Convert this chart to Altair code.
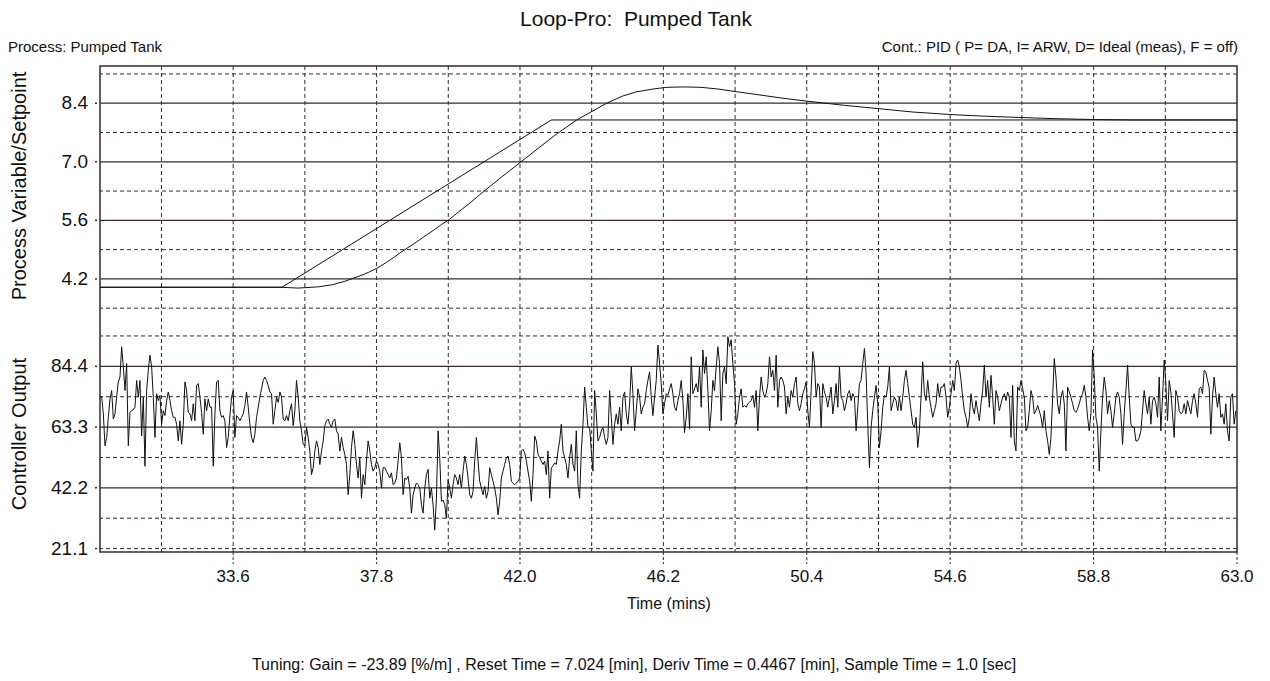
import altair as alt
import numpy as np
import pandas as pd

FONT = "Liberation Sans, Arial, sans-serif"
GRID = "#3a2828"
INK = "#111111"

# ---------------- data ----------------
SP_TIME = [29.7, 35.03, 42.92, 63.0]
SP_VALUE = [4.0, 4.0, 8.0, 8.0]

PV_TIME = [29.7, 31.0, 32.5, 34.0, 35.0, 35.5, 36.1, 36.5, 36.9, 37.1, 37.4, 37.6,
           37.8, 38.1, 38.3, 38.5, 38.8, 39.0, 39.3, 39.5, 39.7, 39.93, 40.2, 40.5,
           40.92, 41.5, 42.0, 42.5, 43.0, 43.66, 44.1, 44.54, 45.0, 45.4, 45.9,
           46.3, 46.8, 47.3, 47.8, 48.3, 49.0, 49.7, 50.4, 51.5, 52.5, 53.5, 54.6,
           55.6, 56.6, 57.7, 58.8, 60.0, 61.5, 63.0]
PV_VALUE = [4.0, 4.0, 4.0, 4.0, 4.0, 3.98, 4.01, 4.06, 4.15, 4.21, 4.3, 4.37,
            4.45, 4.6, 4.71, 4.83, 4.99, 5.1, 5.27, 5.38, 5.5, 5.62, 5.8, 5.99,
            6.28, 6.66, 6.98, 7.3, 7.62, 8.0, 8.2, 8.4, 8.57, 8.67, 8.74,
            8.78, 8.79, 8.78, 8.74, 8.68, 8.6, 8.52, 8.45, 8.35, 8.27, 8.19, 8.13,
            8.09, 8.06, 8.03, 8.01, 8.0, 8.0, 8.0]

# controller output, one reading per sample slot (start CO_START, spacing CO_STEP)
CO_START = 29.7
CO_STEP = 0.048776
CO_PART1 = [
    73.7, 73.9, 67.9, 56.8, 59.7, 66.7, 73.1, 76.0, 66.1, 67.9,
    73.7, 79.0, 80.7, 91.2, 84.2, 76.0, 85.4, 56.8, 68.4, 69.0,
    69.3, 70.2, 79.5, 73.7, 79.5, 60.2, 73.7, 49.7, 76.0, 83.0,
    88.3, 84.2, 73.7, 59.7, 74.9, 72.5, 74.3, 64.3, 69.0, 67.3,
    72.5, 75.5, 72.5, 69.0, 66.7, 66.7, 64.3, 58.5, 65.5, 57.3,
    64.3, 79.0, 76.0, 68.4, 67.9, 65.5, 71.4, 65.5, 77.8, 78.4,
    73.7, 68.4, 60.8, 73.1, 69.0, 73.1, 70.2, 70.2, 49.7, 67.9,
    79.0, 79.5, 69.0, 66.7, 67.3, 65.5, 56.2, 59.7, 67.3, 73.7,
    76.0, 59.7, 67.3, 66.7, 65.5, 66.7, 67.9, 70.8, 75.5, 70.2,
    64.3, 59.7, 57.9, 60.8, 66.7, 70.2, 73.7, 76.6, 79.5, 80.7,
    79.5, 77.8, 75.5, 74.9, 64.3, 69.0, 73.7, 71.9, 75.5, 73.7,
    66.1, 65.5, 67.3, 65.5, 69.0, 71.4, 63.8, 69.0, 79.5, 73.7,
    65.5, 62.0, 57.3, 56.8, 63.2, 59.7, 55.0, 46.8, 49.2, 55.0,
    58.5, 56.2, 50.3, 55.0, 58.5, 63.8, 65.5, 66.1, 64.3, 63.2,
    65.5, 66.1, 62.0, 60.8, 55.0, 59.7, 56.2, 53.8, 50.3, 39.8,
    46.8, 56.2, 62.0, 57.3, 50.3, 45.6, 52.7, 38.6, 46.8, 43.3,
    51.5, 58.5, 55.0, 50.3, 48.0, 49.2, 51.5, 50.3, 48.0, 42.1,
    49.2]
CO_PART2 = [
    49.2, 48.0, 46.8, 45.6, 47.4, 43.3, 43.9, 45.6, 51.5, 57.9,
    52.7, 39.8, 45.6, 45.1, 46.2, 42.1, 33.4, 39.8, 42.1, 43.9,
    43.3, 42.1, 36.3, 33.4, 42.1, 46.8, 48.6, 38.6, 42.1, 36.3,
    27.5, 38.6, 62.0, 52.7, 37.5, 38.0, 36.3, 31.6, 45.1, 42.1,
    38.6, 43.3, 46.8, 45.6, 43.3, 46.8, 42.1, 48.0, 53.2, 50.3,
    45.6, 39.8, 38.6, 41.0, 51.5, 59.7, 51.5, 44.5, 42.1, 39.8,
    42.7, 38.6, 41.0, 49.2, 46.8, 44.5, 42.1, 38.6, 32.8, 37.5,
    45.6, 48.0, 50.3, 52.7, 53.2, 50.3, 44.5, 43.9, 43.3, 43.9,
    44.5, 45.6, 55.0, 55.6, 54.4, 51.5, 48.0, 44.5, 37.5, 46.8,
    60.2, 58.5, 53.8, 52.7, 51.5, 50.3, 51.5, 46.8, 55.0, 38.6,
    49.2, 49.7, 50.9, 50.3, 55.0, 58.5, 64.3, 55.0, 52.7, 50.3,
    45.6, 52.7, 57.3, 50.3, 48.0, 62.0, 43.3, 38.6, 55.0, 64.3,
    77.2, 70.2, 63.2, 63.2, 55.0, 48.0, 76.0, 67.9, 58.5, 59.7,
    62.0, 63.2, 59.7, 57.3, 59.7, 76.0, 66.7, 57.3, 64.3, 67.9,
    64.3, 70.2, 62.0, 73.7, 75.5, 67.9, 64.3, 71.4, 84.2, 74.9,
    62.0, 69.0, 76.6, 73.7, 67.9, 70.2, 71.4, 76.0, 79.5, 82.5,
    73.7, 67.3, 73.7, 79.5, 91.8, 85.4, 78.4, 67.9, 71.4, 74.9,
    74.3]
CO_PART3 = [
    76.6, 78.4, 74.9, 70.2, 69.0, 72.5, 74.9, 79.5, 72.5, 61.4,
    66.7, 74.9, 62.6, 87.7, 74.9, 76.6, 78.4, 75.5, 84.2, 70.2,
    90.1, 81.9, 87.7, 76.0, 62.0, 69.0, 79.5, 76.0, 84.2, 91.2,
    85.4, 65.5, 81.9, 84.2, 78.4, 94.7, 91.2, 93.6, 85.4, 78.4,
    64.3, 67.9, 73.7, 76.6, 70.2, 70.8, 70.2, 71.4, 71.9, 72.5,
    74.3, 70.2, 76.0, 62.0, 73.7, 80.7, 76.0, 73.7, 74.9, 78.4,
    87.7, 80.7, 83.0, 76.0, 88.3, 70.2, 79.5, 80.7, 79.5, 77.2,
    67.9, 73.7, 70.2, 76.0, 73.7, 78.4, 80.7, 71.4, 69.0, 71.4,
    74.9, 76.6, 79.0, 69.0, 63.2, 76.0, 89.5, 85.4, 73.7, 78.4,
    77.2, 63.2, 78.4, 75.5, 73.7, 70.2, 73.7, 77.2, 67.9, 72.5,
    78.4, 70.2, 84.2, 73.7, 72.5, 69.0, 71.4, 74.9, 76.0, 72.5,
    74.9, 73.7, 62.0, 70.2, 78.4, 79.5, 85.4, 90.6, 81.9, 64.3,
    49.2, 63.2, 69.0, 73.7, 77.8, 71.4, 56.2, 62.0, 70.2, 74.3,
    73.7, 77.2, 84.2, 69.0, 71.4, 73.7, 72.5, 69.0, 73.7, 69.0,
    73.7, 79.5, 83.0, 78.4, 73.7, 69.0, 64.3, 63.2, 66.7, 56.2,
    62.0, 73.7, 86.0, 74.9, 72.5, 79.5, 73.7, 70.2, 66.7, 69.0,
    71.4, 78.4, 73.7, 77.2, 77.2, 78.4, 73.7, 66.7, 70.2, 74.9,
    79.5]
CO_PART4 = [
    76.0, 85.4, 86.6, 84.2, 79.5, 73.7, 69.0, 66.7, 63.2, 66.7,
    74.9, 70.2, 67.9, 72.5, 69.0, 65.5, 71.4, 76.0, 84.8, 73.7,
    79.5, 70.2, 81.3, 73.7, 64.3, 76.0, 73.7, 69.0, 71.4, 73.7,
    74.9, 72.5, 75.5, 73.7, 59.7, 77.8, 58.5, 55.0, 77.2, 76.0,
    79.5, 76.6, 73.7, 62.0, 63.2, 69.0, 76.0, 73.7, 67.9, 69.0,
    70.8, 69.0, 66.7, 63.2, 69.0, 62.0, 58.5, 53.8, 59.7, 73.7,
    87.1, 80.7, 71.4, 67.9, 73.7, 76.0, 71.4, 55.0, 77.2, 75.5,
    73.7, 71.4, 69.0, 68.4, 69.6, 71.4, 73.7, 74.9, 77.8, 73.7,
    66.7, 62.0, 67.9, 90.1, 80.7, 66.7, 63.2, 48.0, 62.0, 73.7,
    80.7, 76.0, 67.9, 72.5, 69.0, 63.2, 67.9, 73.7, 75.5, 73.7,
    67.9, 57.3, 67.9, 76.0, 84.8, 73.7, 64.3, 63.2, 63.2, 58.5,
    58.5, 59.7, 62.0, 69.0, 76.0, 71.4, 67.9, 73.7, 64.3, 72.5,
    73.7, 71.4, 66.7, 80.7, 62.0, 73.7, 86.6, 78.4, 65.5, 79.5,
    75.5, 67.9, 59.7, 76.0, 73.7, 69.0, 67.9, 68.4, 71.4, 67.9,
    72.5, 70.2, 67.9, 72.5, 74.9, 71.4, 66.7, 76.6, 77.2, 74.9,
    83.0, 82.5, 79.5, 77.2, 60.8, 73.7, 80.7, 74.9, 70.2, 74.9,
    66.7, 67.9, 64.3, 71.4, 62.0, 58.5, 73.7, 74.9, 64.3, 69.0]

# axes / grid definitions
X_DOMAIN = [29.7, 63.0]
X_TICKS = [33.6, 37.8, 42.0, 46.2, 50.4, 54.6, 58.8, 63.0]
X_GRID = [31.5, 33.6, 35.7, 37.8, 39.9, 42.0, 44.1, 46.2, 48.3, 50.4,
          52.5, 54.6, 56.7, 58.8, 60.9]
PV_DOMAIN = [-2.33, 9.29]
PV_TICKS = [4.2, 5.6, 7.0, 8.4]
PV_DASHED = [3.5, 4.9, 6.3, 7.7, 9.1]
CO_DOMAIN = [19.92, 188.7]
CO_TICKS = [21.1, 42.2, 63.3, 84.4]
CO_SOLID = [42.2, 63.3, 84.4]
CO_DASHED = [21.1, 31.65, 52.75, 73.85, 94.95]

TITLE = "Loop-Pro:\u00a0 Pumped Tank"
LEFT_NOTE = "Process: Pumped Tank"
RIGHT_NOTE = "Cont.: PID ( P= DA, I= ARW, D= Ideal (meas), F = off)"
X_TITLE = "Time (mins)"
PV_TITLE = "Process Variable/Setpoint"
CO_TITLE = "Controller Output"
FOOTER = ("Tuning: Gain = -23.89 [%/m] , Reset Time = 7.024 [min], "
          "Deriv Time = 0.4467 [min], Sample Time = 1.0 [sec]")

W, H = 1137, 486

# ---------------- frames ----------------
co_values = CO_PART1 + CO_PART2 + CO_PART3 + CO_PART4
co_df = pd.DataFrame({"t": CO_START + CO_STEP * np.arange(len(co_values)),
                      "v": co_values})
sp_df = pd.DataFrame({"t": SP_TIME, "v": SP_VALUE})
pv_df = pd.DataFrame({"t": PV_TIME, "v": PV_VALUE})

xscale = alt.Scale(domain=X_DOMAIN, nice=False, zero=False)
pvscale = alt.Scale(domain=PV_DOMAIN, nice=False, zero=False)
coscale = alt.Scale(domain=CO_DOMAIN, nice=False, zero=False)

X = alt.X("t:Q", scale=xscale, axis=None)
YPV = alt.Y("v:Q", scale=pvscale, axis=None)
YCO = alt.Y("v:Q", scale=coscale, axis=None)


def hrules(values, y, dash=None, width=1.0):
    kw = {"strokeDash": dash} if dash else {}
    return alt.Chart(pd.DataFrame({"v": values})).mark_rule(
        color=GRID, strokeWidth=width, **kw).encode(y=y)


def ylabels(values, y):
    d = pd.DataFrame({"v": values})
    ticks = alt.Chart(d).mark_rule(color=GRID, strokeWidth=1.5).encode(
        y=y, x=alt.value(-5), x2=alt.value(-3))
    text = alt.Chart(d).mark_text(
        font=FONT, fontSize=19, color=INK, align="right", baseline="middle"
    ).encode(y=y, x=alt.value(-12), text=alt.Text("v:Q", format=".1f"))
    return [ticks, text]


vgrid = alt.Chart(pd.DataFrame({"t": X_GRID})).mark_rule(
    color=GRID, strokeDash=[4, 3], strokeWidth=1).encode(x=X)

xt = pd.DataFrame({"t": X_TICKS})
xticks = alt.Chart(xt).mark_rule(
    color=GRID, strokeDash=[3, 2], strokeWidth=1
).encode(x=X, y=alt.value(H), y2=alt.value(H + 12))
xlabels = alt.Chart(xt).mark_text(
    font=FONT, fontSize=17, color=INK, align="center", baseline="middle"
).encode(x=X, y=alt.value(H + 25), text=alt.Text("t:Q", format=".1f"))

sp_line = alt.Chart(sp_df).mark_line(color=INK, strokeWidth=1).encode(x=X, y=YPV)
pv_line = alt.Chart(pv_df).mark_line(color=INK, strokeWidth=1).encode(x=X, y=YPV)
co_line = alt.Chart(co_df).mark_line(color=INK, strokeWidth=1).encode(x=X, y=YCO)


def label(text, x, y, size, align="center", angle=0):
    return alt.Chart(pd.DataFrame({"s": [text]})).mark_text(
        font=FONT, fontSize=size, color=INK, align=align,
        baseline="middle", angle=angle
    ).encode(text="s:N", x=alt.value(x), y=alt.value(y))


texts = [
    label(TITLE, 536, -46, 21),
    label(LEFT_NOTE, -92, -19, 15, align="left"),
    label(RIGHT_NOTE, 1138, -19, 15, align="right"),
    label(X_TITLE, 569, 538, 16),
    label(FOOTER, 534, 599, 16),
    label(PV_TITLE, -80, 120, 20, angle=270),
    label(CO_TITLE, -80, 368, 20, angle=270),
]

layers = [
    vgrid,
    hrules(PV_TICKS, YPV, width=1.2),
    hrules(PV_DASHED, YPV, dash=[4, 3]),
    hrules(CO_SOLID, YCO, width=1.2),
    hrules(CO_DASHED, YCO, dash=[4, 3]),
    *ylabels(PV_TICKS, YPV),
    *ylabels(CO_TICKS, YCO),
    xticks, xlabels,
    sp_line, pv_line, co_line,
    *texts,
]

chart = alt.layer(*layers).resolve_scale(y="independent").properties(
    width=W, height=H,
    autosize=alt.AutoSizeParams(type="none"),
    padding={"left": 92, "top": 58, "right": 20, "bottom": 121},
    background="white",
).configure_view(stroke=GRID, strokeWidth=1.5)

chart.save("out.html", embed_options={"renderer": "svg", "actions": False})
